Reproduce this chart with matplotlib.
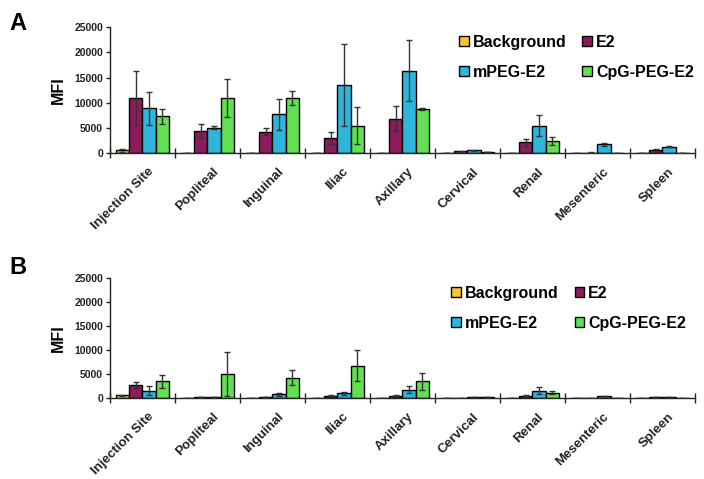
import numpy as np
import matplotlib.pyplot as plt

plt.rcParams['font.family'] = ['Liberation Sans', 'DejaVu Sans']
plt.rcParams['font.weight'] = 'bold'

sites = ["Injection Site", "Popliteal", "Inguinal", "Iliac", "Axillary",
         "Cervical", "Renal", "Mesenteric", "Spleen"]
groups = ["Background", "E2", "mPEG-E2", "CpG-PEG-E2"]
colors = ["#F7C437", "#8C1C5E", "#2EB5DC", "#62E052"]

# panel A values (MFI) and errors
a_vals = {
    "Background": [600, 100, 100, 100, 100, 50, 100, 50, 100],
    "E2":         [11000, 4500, 4300, 3000, 6900, 400, 2200, 150, 700],
    "mPEG-E2":    [8900, 5100, 7700, 13600, 16400, 600, 5500, 1800, 1300],
    "CpG-PEG-E2": [7300, 11000, 11000, 5500, 8700, 300, 2400, 50, 100],
}
a_errs = {
    "Background": [300, 0, 0, 0, 0, 0, 0, 0, 0],
    "E2":         [5400, 1400, 700, 1200, 2400, 100, 700, 50, 150],
    "mPEG-E2":    [3300, 300, 3100, 8100, 6100, 100, 2000, 300, 100],
    "CpG-PEG-E2": [1400, 3800, 1400, 3600, 200, 50, 800, 0, 0],
}

# panel B values (MFI) and errors
b_vals = {
    "Background": [600, 100, 100, 100, 100, 50, 100, 50, 100],
    "E2":         [2700, 300, 300, 500, 500, 100, 500, 50, 300],
    "mPEG-E2":    [1600, 300, 800, 1000, 1800, 250, 1600, 400, 300],
    "CpG-PEG-E2": [3500, 5000, 4300, 6800, 3500, 250, 1200, 50, 100],
}
b_errs = {
    "Background": [150, 0, 0, 0, 0, 0, 0, 0, 0],
    "E2":         [600, 50, 50, 100, 100, 0, 100, 0, 50],
    "mPEG-E2":    [900, 50, 300, 300, 700, 50, 700, 50, 50],
    "CpG-PEG-E2": [1300, 4600, 1500, 3200, 1800, 50, 300, 0, 0],
}

fig = plt.figure(figsize=(7.04, 4.79), dpi=100)
axA = fig.add_axes([0.156, 0.680, 0.831, 0.263])
axB = fig.add_axes([0.156, 0.1685, 0.831, 0.2505])

x = np.arange(len(sites)) + 0.5
w = 0.205


def draw(ax, vals, errs, leg_anchor):
    handles = []
    for i, g in enumerate(groups):
        pos = x + (i - 1.5) * w
        h = ax.bar(pos, vals[g], w, color=colors[i], edgecolor="black",
                   linewidth=1.0, label=g, zorder=2)
        handles.append(h)
        ax.errorbar(pos, vals[g], yerr=errs[g], fmt="none", ecolor="#333333",
                    elinewidth=1.0, capsize=2.5, capthick=1.0, zorder=3)
    ax.set_xlim(0, len(sites))
    ax.set_ylim(0, 25000)
    ax.set_yticks(np.arange(0, 25001, 5000))
    ax.set_yticklabels([str(v) for v in range(0, 25001, 5000)],
                       fontsize=7.5, fontweight="bold", color="#222222")
    ax.set_xticks(np.arange(0, len(sites) + 1))
    ax.set_xticklabels([])
    ax.set_xticks(x + 0.08, minor=True)
    ax.set_xticklabels(sites, minor=True, rotation=45, ha="right",
                       rotation_mode="anchor", fontsize=9.5, fontweight="bold",
                       color="#222222")
    ax.tick_params(axis="x", which="major", direction="inout", length=7,
                   width=1, color="#222222")
    ax.tick_params(axis="x", which="minor", length=0, pad=9)
    ax.tick_params(axis="y", direction="out", length=3, width=1,
                   color="#222222", pad=2)
    for s in ["top", "right"]:
        ax.spines[s].set_visible(False)
    for s in ["left", "bottom"]:
        ax.spines[s].set_linewidth(1.0)
        ax.spines[s].set_color("#222222")
    ax.set_ylabel("MFI", fontsize=11.5, fontweight="bold", labelpad=6)
    # row order: Background, E2 / mPEG-E2, CpG-PEG-E2
    order = [0, 2, 1, 3]
    ax.legend([handles[k] for k in order], [groups[k] for k in order],
              ncol=2, frameon=False, loc="upper left",
              bbox_to_anchor=leg_anchor, bbox_transform=fig.transFigure,
              handlelength=0.6, handleheight=0.6, handletextpad=0.25,
              columnspacing=1.0, labelspacing=0.95, borderaxespad=0,
              prop={"size": 11.5, "weight": "bold"})


draw(axA, a_vals, a_errs, (0.643, 0.941))
draw(axB, b_vals, b_errs, (0.632, 0.417))

fig.text(0.013, 0.975, "A", fontsize=17, fontweight="bold", va="top")
fig.text(0.013, 0.465, "B", fontsize=17, fontweight="bold", va="top")

fig.savefig("out.png", dpi=100)
